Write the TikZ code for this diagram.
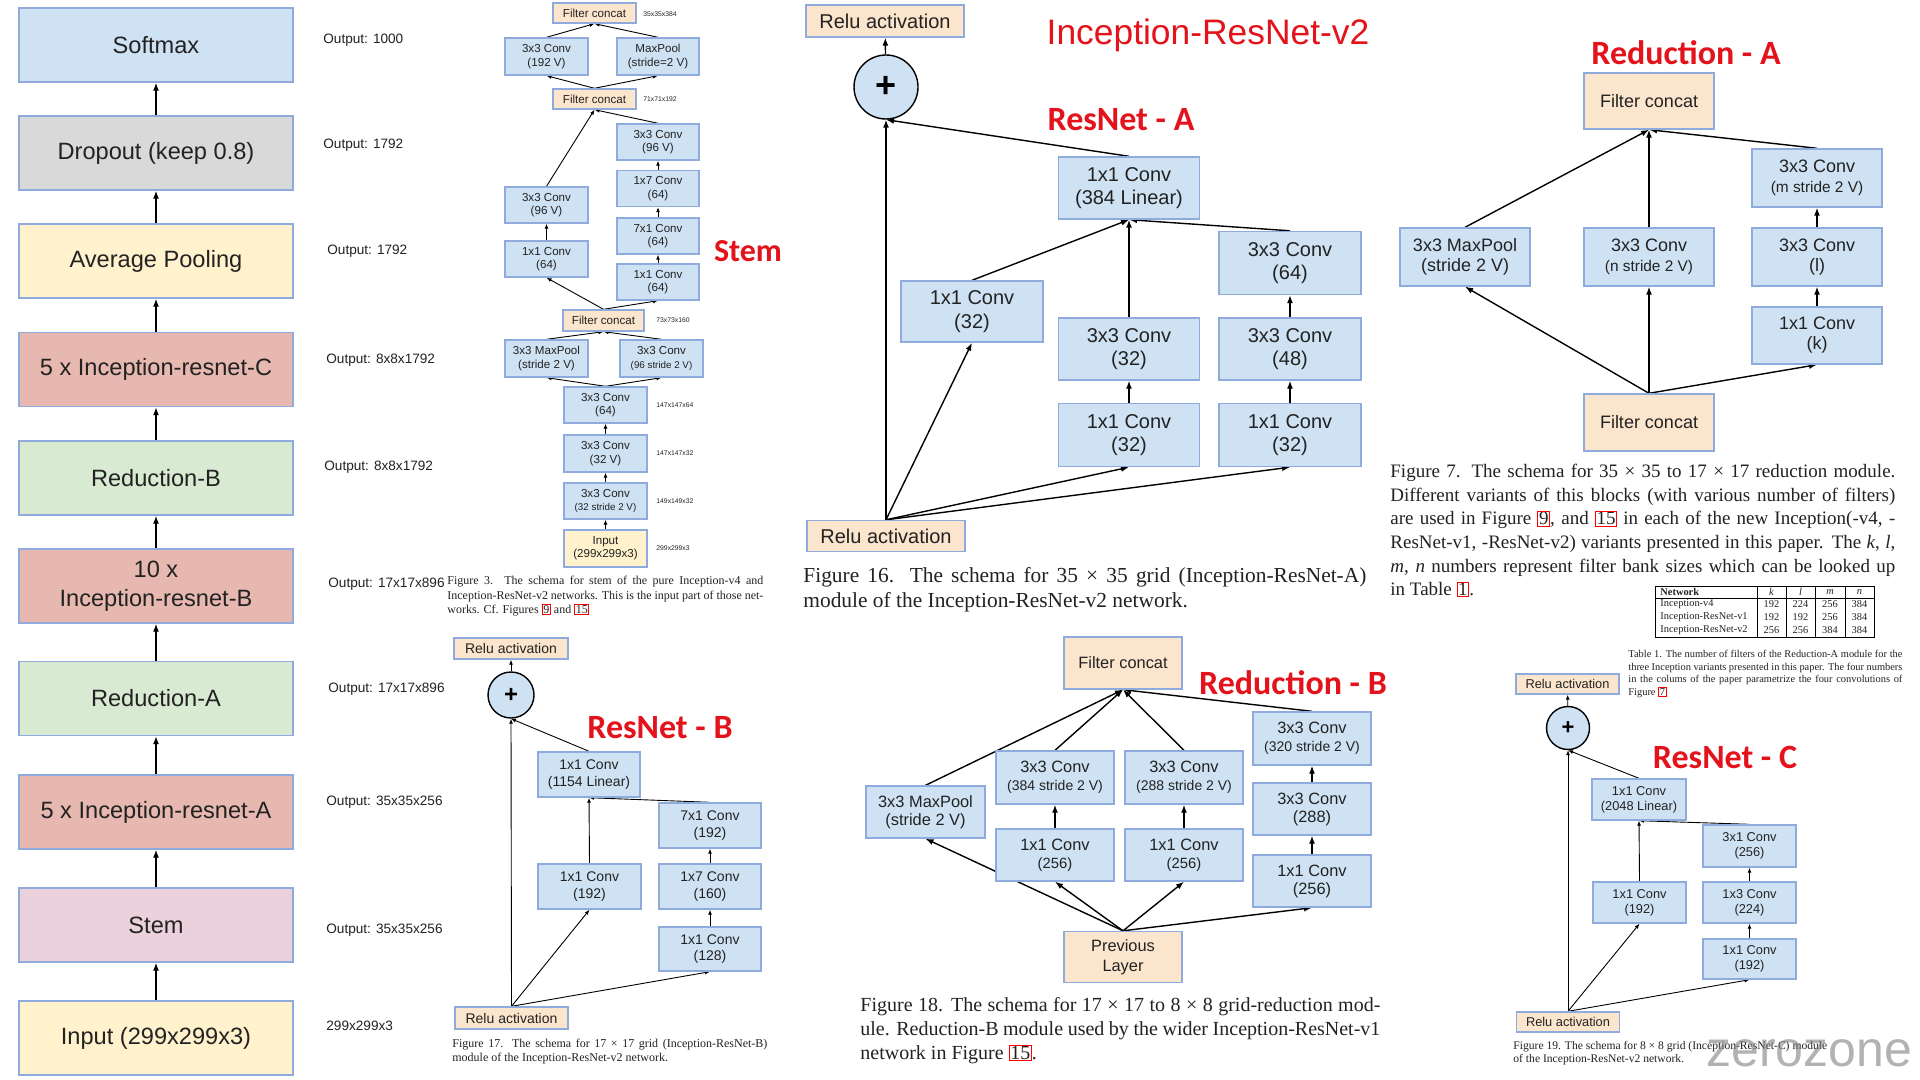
\documentclass[tikz,border=0pt]{standalone}
\usepackage{fontspec}
\setmainfont{Liberation Serif}
\setsansfont{Liberation Sans}
\newfontfamily\titlefont{Carlito}
\usetikzlibrary{arrows.meta}
\newcommand\fsize[2]{\fontsize{#1}{#2}\selectfont}
\newcommand\refbox[1]{{\setlength{\fboxsep}{0.3pt}\setlength{\fboxrule}{0.5pt}\fcolorbox{red}{white}{#1}}}
\definecolor{boxline}{HTML}{8FAADC}
\definecolor{convfill}{HTML}{CFE2F3}
\definecolor{catfill}{HTML}{FCE5CD}
\definecolor{grayfill}{HTML}{D9D9D9}
\definecolor{yelfill}{HTML}{FFF2CC}
\definecolor{redfill}{HTML}{E6B8AF}
\definecolor{grnfill}{HTML}{D9EAD3}
\definecolor{pinkfill}{HTML}{EAD1DC}
\definecolor{titlered}{HTML}{E3121B}
\definecolor{ink}{HTML}{222222}
\pgfdeclarelayer{bg}
\pgfsetlayers{bg,main}

\begin{document}
\begin{tikzpicture}[x=0.5pt,y=-0.5pt,
  sz/.style 2 args={minimum width={#1*0.5pt},minimum height={#2*0.5pt}},
  blk/.style={draw=boxline,line width=0.7pt,align=center,inner sep=0pt,text=ink},
  conv/.style={blk,fill=convfill},
  cat/.style={blk,fill=catfill},
  addop/.style={circle,draw=black,line width=0.7pt,fill=convfill,inner sep=0pt,text=black},
  arr/.style={-{Latex[length=4pt,width=3pt]},line width=0.7pt},
  tarr/.style={-{Latex[length=2.5pt,width=2pt]},line width=0.45pt},
  lcol/.style={blk,sz={274}{74},font={\sffamily\fsize{11.8pt}{14.3pt}}},
  smod/.style={sz={83}{36},font={\sffamily\fsize{5.8pt}{6.7pt}}},
  bmod/.style={sz={102}{45},font={\sffamily\fsize{7pt}{8.3pt}}},
  amod/.style={sz={142}{62},font={\sffamily\fsize{10pt}{11.8pt}}},
  cmod/.style={sz={93}{41},font={\sffamily\fsize{6.4pt}{7.5pt}}},
  ramod/.style={sz={130}{58},font={\sffamily\fsize{9pt}{10pt}}},
  rbmod/.style={sz={118}{52},font={\sffamily\fsize{8.2pt}{9pt}}},
  blocktitle/.style={text=titlered,font={\titlefont\bfseries\fsize{17pt}{20pt}}},
  outlbl/.style={anchor=west,inner sep=0pt,text=ink,font={\sffamily\fsize{6.8pt}{8pt}}},
  dimlbl/.style={anchor=west,inner sep=0pt,text=ink,font={\sffamily\fsize{3.4pt}{4pt}}},
  figcap/.style={anchor=north west,inner sep=0pt,align=justify,text=ink},
  tabtxt/.style={inner sep=0pt,text=ink,font={\rmfamily\fsize{5.2pt}{6pt}}}]
\useasboundingbox (0,0) rectangle (1920,1080);

%Main Column
\node at (156,45) [lcol,fill=convfill] (LSoft) {Softmax};
\node at (156,153) [lcol,fill=grayfill] (LDrop) {Dropout (keep 0.8)};
\node at (156,261) [lcol,fill=yelfill] (LPool) {Average Pooling};
\node at (156,369.5) [lcol,fill=redfill] (LIRC) {5 x Inception-resnet-C};
\node at (156,478) [lcol,fill=grnfill] (LRedB) {Reduction-B};
\node at (156,586) [lcol,fill=redfill] (LIRB) {10 x\\Inception-resnet-B};
\node at (156,698.5) [lcol,fill=grnfill] (LRedA) {Reduction-A};
\node at (156,812) [lcol,fill=redfill] (LIRA) {5 x Inception-resnet-A};
\node at (156,925) [lcol,fill=pinkfill] (LStem) {Stem};
\node at (156,1038) [lcol,fill=yelfill] (LIn) {Input (299x299x3)};

%Output Sizes
\node at (323,40) [outlbl] (O1) {Output: 1000};
\node at (323,145) [outlbl] (O2) {Output: 1792};
\node at (327,251) [outlbl] (O3) {Output: 1792};
\node at (326,360) [outlbl] (O4) {Output: 8x8x1792};
\node at (324,467) [outlbl] (O5) {Output: 8x8x1792};
\node at (328,584) [outlbl] (O6) {Output: 17x17x896};
\node at (328,689) [outlbl] (O7) {Output: 17x17x896};
\node at (326,802) [outlbl] (O8) {Output: 35x35x256};
\node at (326,930) [outlbl] (O9) {Output: 35x35x256};
\node at (326,1026) [outlbl] (O10) {299x299x3};

%Stem
\node at (594.5,13) [cat,smod,sz={83}{20}] (SCat1) {Filter concat};
\node at (546.5,56.5) [conv,smod,sz={83}{37}] (SConvA) {3x3 Conv\\(192 V)};
\node at (658,56.5) [conv,smod,sz={82}{37}] (SPoolA) {MaxPool\\(stride=2 V)};
\node at (594.5,99) [cat,smod,sz={83}{20}] (SCat2) {Filter concat};
\node at (658,142) [conv,smod,sz={82}{36}] (SConvB) {3x3 Conv\\(96 V)};
\node at (658,188.5) [conv,smod,sz={82}{36}] (SConv17) {1x7 Conv\\(64)};
\node at (658,236) [conv,smod,sz={82}{36}] (SConv71) {7x1 Conv\\(64)};
\node at (658,282) [conv,smod,sz={82}{36}] (SConv11R) {1x1 Conv\\(64)};
\node at (546.5,205) [conv,smod] (SConvC) {3x3 Conv\\(96 V)};
\node at (546.5,259) [conv,smod] (SConv11L) {1x1 Conv\\(64)};
\node at (603.5,320.5) [cat,smod,sz={81}{21}] (SCat3) {Filter concat};
\node at (546.5,358.5) [conv,smod,sz={83}{37}] (SPoolB) {3x3 MaxPool\\(stride 2 V)};
\node at (661.5,358.5) [conv,smod,sz={83}{37}] (SConvD) {3x3 Conv\\{\fsize{4.9pt}{6pt}(96 stride 2 V)}};
\node at (605.5,405) [conv,smod] (SConvE) {3x3 Conv\\(64)};
\node at (605.5,453.5) [conv,smod,sz={83}{37}] (SConvF) {3x3 Conv\\(32 V)};
\node at (605.5,501) [conv,smod] (SConvG) {3x3 Conv\\{\fsize{4.9pt}{6pt}(32 stride 2 V)}};
\node at (605.5,548.5) [blk,fill=yelfill,smod,sz={83}{37}] (SIn) {Input\\(299x299x3)};
\node at (643,14) [dimlbl] (D1) {35x35x384};
\node at (643,99) [dimlbl] (D2) {71x71x192};
\node at (656,320) [dimlbl] (D3) {73x73x160};
\node at (656,405) [dimlbl] (D4) {147x147x64};
\node at (656,453) [dimlbl] (D5) {147x147x32};
\node at (656,501) [dimlbl] (D6) {149x149x32};
\node at (656,548) [dimlbl] (D7) {299x299x3};
\node at (748,251) [blocktitle,font={\titlefont\bfseries\fsize{16pt}{19pt}}] (TStem) {Stem};
\node at (447,576) [figcap,text width=158pt,font={\rmfamily\fsize{6pt}{7.2pt}}] (Cap3) {Figure 3. The schema for stem of the pure Inception-v4 and\linebreak Inception-ResNet-v2 networks. This is the input part of those net-\linebreak works. Cf. Figures \refbox{9} and \refbox{15}};

%ResNet-A
\node at (885,21) [cat,amod,sz={158}{32}] (ARelu2) {Relu activation};
\node at (886,87) [addop,minimum size={64*0.5pt},font={\sffamily\bfseries\fsize{18pt}{18pt}}] (APlus) {+};
\node at (1129,188) [conv,amod,sz={141}{62}] (ALin) {1x1 Conv\\(384 Linear)};
\node at (1290,263) [conv,amod,sz={142}{63}] (AConv64) {3x3 Conv\\(64)};
\node at (972,311.5) [conv,amod,sz={142}{61}] (AConvL) {1x1 Conv\\(32)};
\node at (1129,349) [conv,amod,sz={141}{62}] (AConv32) {3x3 Conv\\(32)};
\node at (1290,349) [conv,amod] (AConv48) {3x3 Conv\\(48)};
\node at (1129,435) [conv,amod,sz={141}{63}] (AConvM) {1x1 Conv\\(32)};
\node at (1290,435) [conv,amod,sz={142}{63}] (AConvR) {1x1 Conv\\(32)};
\node at (886,536) [cat,amod,sz={158}{31}] (ARelu1) {Relu activation};
\node at (1208,35) [text=titlered,font={\sffamily\fsize{17.7pt}{20pt}}] (TMain) {Inception-ResNet-v2};
\node at (1121,120) [blocktitle] (TA) {ResNet - A};
\node at (803,567) [figcap,text width=281.5pt,font={\rmfamily\fsize{10.7pt}{12.5pt}}] (Cap16) {Figure 16. The schema for 35 × 35 grid (Inception-ResNet-A)\linebreak module of the Inception-ResNet-v2 network.};

%ResNet-B
\node at (511,648.5) [cat,bmod,sz={114}{21}] (BRelu2) {Relu activation};
\node at (511,695) [addop,minimum size={46*0.5pt},font={\sffamily\bfseries\fsize{12pt}{12pt}}] (BPlus) {+};
\node at (589,774.5) [conv,bmod] (BLin) {1x1 Conv\\(1154 Linear)};
\node at (710,825.5) [conv,bmod] (BConv71) {7x1 Conv\\(192)};
\node at (589.5,886.5) [conv,bmod,sz={103}{45}] (BConvL) {1x1 Conv\\(192)};
\node at (710,886.5) [conv,bmod] (BConv17) {1x7 Conv\\(160)};
\node at (710,949) [conv,bmod,sz={102}{44}] (BConvR) {1x1 Conv\\(128)};
\node at (511.5,1018) [cat,bmod,sz={113}{22}] (BRelu1) {Relu activation};
\node at (660,728) [blocktitle] (TB) {ResNet - B};
\node at (452,1039) [figcap,text width=157.5pt,font={\rmfamily\fsize{6pt}{7pt}}] (Cap17) {Figure 17. The schema for 17 × 17 grid (Inception-ResNet-B)\linebreak module of the Inception-ResNet-v2 network.};

%Reduction-A
\node at (1649,101) [cat,ramod,sz={130}{56}] (RACatT) {Filter concat};
\node at (1817,178) [conv,ramod] (RAConvM) {3x3 Conv\\{\fsize{7.7pt}{9pt}(m stride 2 V)}};
\node at (1465,257) [conv,ramod] (RAPool) {3x3 MaxPool\\(stride 2 V)};
\node at (1649,257) [conv,ramod] (RAConvN) {3x3 Conv\\{\fsize{7.7pt}{9pt}(n stride 2 V)}};
\node at (1817,257) [conv,ramod] (RAConvL) {3x3 Conv\\(l)};
\node at (1817,335.5) [conv,ramod,sz={130}{57}] (RAConvK) {1x1 Conv\\(k)};
\node at (1649,422.5) [cat,ramod,sz={130}{57}] (RACatB) {Filter concat};
\node at (1686,53) [blocktitle] (TRA) {Reduction - A};
\node at (1390,464) [figcap,text width=252.5pt,font={\rmfamily\fsize{9.5pt}{11.8pt}}] (Cap7) {Figure 7. The schema for 35 × 35 to 17 × 17 reduction module.\linebreak Different variants of this blocks (with various number of filters)\linebreak are used in Figure \refbox{9}, and \refbox{15} in each of the new Inception(-v4, -\linebreak ResNet-v1, -ResNet-v2) variants presented in this paper. The \textit{k}, \textit{l},\linebreak \textit{m}, \textit{n} numbers represent filter bank sizes which can be looked up\linebreak in Table \refbox{1}.};

%Table 1
\draw[line width=0.4pt] (1655,586) rectangle (1874,637);
\draw[line width=0.4pt] (1655,598) -- (1874,598);
\draw[line width=0.4pt] (1757,586) -- (1757,637);
\draw[line width=0.4pt] (1786,586) -- (1786,637);
\draw[line width=0.4pt] (1815,586) -- (1815,637);
\draw[line width=0.4pt] (1845,586) -- (1845,637);
\node at (1660,592) [tabtxt,anchor=west] (TH0) {\textbf{Network}};
\node at (1771.5,592) [tabtxt] (TH1) {\textit{k}};
\node at (1800.5,592) [tabtxt] (TH2) {\textit{l}};
\node at (1830,592) [tabtxt] (TH3) {\textit{m}};
\node at (1859.5,592) [tabtxt] (TH4) {\textit{n}};
\node at (1660,604.5) [tabtxt,anchor=west] (TR1) {Inception-v4};
\node at (1771.5,604.5) [tabtxt] (TR1k) {192};
\node at (1800.5,604.5) [tabtxt] (TR1l) {224};
\node at (1830,604.5) [tabtxt] (TR1m) {256};
\node at (1859.5,604.5) [tabtxt] (TR1n) {384};
\node at (1660,617.5) [tabtxt,anchor=west] (TR2) {Inception-ResNet-v1};
\node at (1771.5,617.5) [tabtxt] (TR2k) {192};
\node at (1800.5,617.5) [tabtxt] (TR2l) {192};
\node at (1830,617.5) [tabtxt] (TR2m) {256};
\node at (1859.5,617.5) [tabtxt] (TR2n) {384};
\node at (1660,630.5) [tabtxt,anchor=west] (TR3) {Inception-ResNet-v2};
\node at (1771.5,630.5) [tabtxt] (TR3k) {256};
\node at (1800.5,630.5) [tabtxt] (TR3l) {256};
\node at (1830,630.5) [tabtxt] (TR3m) {384};
\node at (1859.5,630.5) [tabtxt] (TR3n) {384};
\node at (1628,650) [figcap,text width=137pt,font={\rmfamily\fsize{5.2pt}{6.3pt}}] (CapT1) {Table 1. The number of filters of the Reduction-A module for the\linebreak three Inception variants presented in this paper. The four numbers\linebreak in the colums of the paper parametrize the four convolutions of\linebreak Figure \refbox{7}};

%Reduction-B
\node at (1123,663) [cat,rbmod] (RBCat) {Filter concat};
\node at (1312,738.5) [conv,rbmod,sz={118}{53}] (RBConv320) {3x3 Conv\\{\fsize{7pt}{9pt}(320 stride 2 V)}};
\node at (1055,777.5) [conv,rbmod,sz={118}{53}] (RBConv384) {3x3 Conv\\{\fsize{7pt}{9pt}(384 stride 2 V)}};
\node at (1184,777.5) [conv,rbmod,sz={118}{53}] (RBConv288S) {3x3 Conv\\{\fsize{7pt}{9pt}(288 stride 2 V)}};
\node at (925.5,812) [conv,rbmod,sz={119}{52}] (RBPool) {3x3 MaxPool\\(stride 2 V)};
\node at (1312,809) [conv,rbmod] (RBConv288) {3x3 Conv\\(288)};
\node at (1055,855) [conv,rbmod] (RBConvA) {1x1 Conv\\{\fsize{7.4pt}{9pt}(256)}};
\node at (1184,855) [conv,rbmod] (RBConvB) {1x1 Conv\\{\fsize{7.4pt}{9pt}(256)}};
\node at (1312,881) [conv,rbmod] (RBConvC) {1x1 Conv\\(256)};
\node at (1123,957) [cat,rbmod,sz={118}{51},font={\sffamily\fsize{8.2pt}{9.8pt}}] (RBPrev) {Previous\\Layer};
\node at (1293,683) [blocktitle] (TRB) {Reduction - B};
\node at (860,997) [figcap,text width=260pt,font={\rmfamily\fsize{10pt}{12pt}}] (Cap18) {Figure 18. The schema for 17 × 17 to 8 × 8 grid-reduction mod-\linebreak ule. Reduction-B module used by the wider Inception-ResNet-v1\linebreak network in Figure \refbox{15}.};

%ResNet-C
\node at (1567.5,684) [cat,cmod,sz={103}{20}] (CRelu2) {Relu activation};
\node at (1568,728) [addop,minimum size={43*0.5pt},font={\sffamily\bfseries\fsize{11pt}{11pt}}] (CPlus) {+};
\node at (1639,799.5) [conv,cmod,sz={94}{41}] (CLin) {1x1 Conv\\(2048 Linear)};
\node at (1749.5,846) [conv,cmod,sz={93}{42}] (CConv31) {3x1 Conv\\(256)};
\node at (1639.5,902.5) [conv,cmod] (CConvL) {1x1 Conv\\(192)};
\node at (1749.5,902.5) [conv,cmod] (CConv13) {1x3 Conv\\(224)};
\node at (1749.5,959) [conv,cmod,sz={93}{40}] (CConvR) {1x1 Conv\\(192)};
\node at (1568,1022) [cat,cmod,sz={103}{20}] (CRelu1) {Relu activation};
\node at (1725,757) [blocktitle] (TC) {ResNet - C};
\node at (1513,1041) [figcap,align=left,font={\rmfamily\fsize{5.8pt}{6.5pt}}] (Cap19) {Figure 19. The schema for 8 × 8 grid (Inception-ResNet-C) module\\of the Inception-ResNet-v2 network.};
\node at (1706,1066) [anchor=base west,inner sep=0pt,text=gray,text opacity=0.6,font={\sffamily\fsize{25pt}{25pt}}] (Mark) {zerozone};

%Connections
\begin{pgfonlayer}{bg}
\fill[white] (0,0) rectangle (1920,1080);
\draw[arr] (LDrop) -- (LSoft);
\draw[arr] (LPool) -- (LDrop);
\draw[arr] (LIRC) -- (LPool);
\draw[arr] (LRedB) -- (LIRC);
\draw[arr] (LIRB) -- (LRedB);
\draw[arr] (LRedA) -- (LIRB);
\draw[arr] (LIRA) -- (LRedA);
\draw[arr] (LStem) -- (LIRA);
\draw[arr] (LIn) -- (LStem);

\draw[tarr] (SCat2.north) -- (SConvA.south);
\draw[tarr] (SCat2.north) -- (SPoolA.south);
\draw[tarr] (SConvA.north) -- (SCat1.south);
\draw[tarr] (SPoolA.north) -- (SCat1.south);
\draw[tarr] (SCat3.north) -- (SConv11L.south);
\draw[tarr] (SCat3.north) -- (SConv11R.south);
\draw[tarr] (SConv11L) -- (SConvC);
\draw[tarr] (SConvC.north) -- (SCat2.south);
\draw[tarr] (SConv11R) -- (SConv71);
\draw[tarr] (SConv71) -- (SConv17);
\draw[tarr] (SConv17) -- (SConvB);
\draw[tarr] (SConvB.north) -- (SCat2.south);
\draw[tarr] (SConvE.north) -- (SPoolB.south);
\draw[tarr] (SConvE.north) -- (SConvD.south);
\draw[tarr] (SPoolB.north) -- (SCat3.south);
\draw[tarr] (SConvD.north) -- (SCat3.south);
\draw[tarr] (SIn) -- (SConvG);
\draw[tarr] (SConvG) -- (SConvF);
\draw[tarr] (SConvF) -- (SConvE);

\draw[arr] (ARelu1.north) -- (APlus.south);
\draw[arr] (ARelu1.north) -- (AConvL.south);
\draw[arr] (ARelu1.north) -- (AConvM.south);
\draw[arr] (ARelu1.north) -- (AConvR.south);
\draw[arr] (AConvM) -- (AConv32);
\draw[arr] (AConvR) -- (AConv48);
\draw[arr] (AConv48) -- (AConv64);
\draw[arr] (AConvL.north) -- (ALin.south);
\draw[arr] (AConv32.north) -- (ALin.south);
\draw[arr] (AConv64.north) -- (ALin.south);
\draw[arr] (ALin.north) -- (APlus.south);
\draw[arr] (APlus) -- (ARelu2);

\draw[tarr] (BRelu1.north) -- (BPlus.south);
\draw[tarr] (BRelu1.north) -- (BConvL.south);
\draw[tarr] (BRelu1.north) -- (BConvR.south);
\draw[tarr] (BConvR) -- (BConv17);
\draw[tarr] (BConv17) -- (BConv71);
\draw[tarr] (BConvL.north) -- (BLin.south);
\draw[tarr] (BConv71.north) -- (BLin.south);
\draw[tarr] (BLin.north) -- (BPlus.south);
\draw[tarr] (BPlus) -- (BRelu2);

\draw[arr] (RACatB.north) -- (RAPool.south);
\draw[arr] (RACatB.north) -- (RAConvN.south);
\draw[arr] (RACatB.north) -- (RAConvK.south);
\draw[arr] (RAConvK) -- (RAConvL);
\draw[arr] (RAConvL) -- (RAConvM);
\draw[arr] (RAPool.north) -- (RACatT.south);
\draw[arr] (RAConvN.north) -- (RACatT.south);
\draw[arr] (RAConvM.north) -- (RACatT.south);

\draw[arr] (RBPrev.north) -- (RBPool.south);
\draw[arr] (RBPrev.north) -- (RBConvA.south);
\draw[arr] (RBPrev.north) -- (RBConvB.south);
\draw[arr] (RBPrev.north) -- (RBConvC.south);
\draw[arr] (RBConvA) -- (RBConv384);
\draw[arr] (RBConvB) -- (RBConv288S);
\draw[arr] (RBConvC) -- (RBConv288);
\draw[arr] (RBConv288) -- (RBConv320);
\draw[arr] (RBPool.north) -- (RBCat.south);
\draw[arr] (RBConv384.north) -- (RBCat.south);
\draw[arr] (RBConv288S.north) -- (RBCat.south);
\draw[arr] (RBConv320.north) -- (RBCat.south);

\draw[tarr] (CRelu1.north) -- (CPlus.south);
\draw[tarr] (CRelu1.north) -- (CConvL.south);
\draw[tarr] (CRelu1.north) -- (CConvR.south);
\draw[tarr] (CConvR) -- (CConv13);
\draw[tarr] (CConv13) -- (CConv31);
\draw[tarr] (CConvL.north) -- (CLin.south);
\draw[tarr] (CConv31.north) -- (CLin.south);
\draw[tarr] (CLin.north) -- (CPlus.south);
\draw[tarr] (CPlus) -- (CRelu2);
\end{pgfonlayer}
\end{tikzpicture}
\end{document}
